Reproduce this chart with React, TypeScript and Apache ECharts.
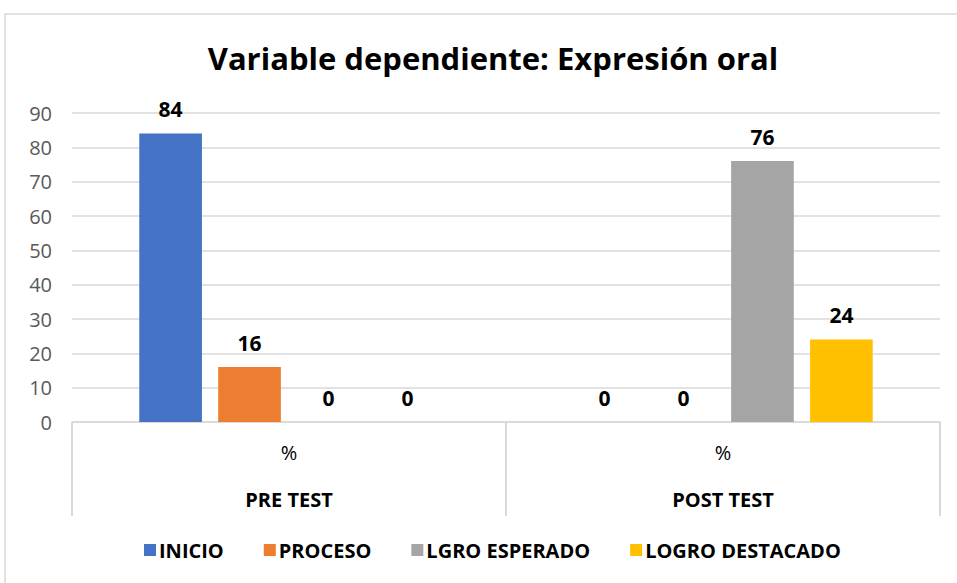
import React, { useEffect, useRef } from "react";
import * as echarts from "echarts";

const subCategories = ["%", "%"];
const groups = ["PRE TEST", "POST TEST"];
const seriesNames = ["INICIO", "PROCESO", "LGRO ESPERADO", "LOGRO DESTACADO"];
const inicio = [84, 0];
const proceso = [16, 0];
const esperado = [0, 76];
const destacado = [0, 24];
const colors = ["#4472C4", "#ED7D31", "#A5A5A5", "#FFC000"];
const yTicks = { min: 0, max: 90, interval: 10 };

const FONT = "'Open Sans', 'Noto Sans', sans-serif";

export default function App() {
  const ref = useRef<HTMLDivElement>(null);
  useEffect(() => {
    if (!ref.current) return;
    const chart = echarts.init(ref.current, undefined, { renderer: "svg" });
    const values = [inicio, proceso, esperado, destacado];
    chart.setOption({
      animation: false,
      textStyle: { fontFamily: FONT },
      title: {
        text: "Variable dependiente: Expresión oral",
        left: 488,
        top: 37,
        textAlign: "center",
        textStyle: { fontFamily: FONT, fontSize: 31, fontWeight: "bold", color: "#000" },
      },
      graphic: [
        {
          type: "rect",
          shape: { x: 5, y: 14, width: 1000, height: 620 },
          style: { fill: "none", stroke: "#d9d9d9", lineWidth: 1.5 },
          silent: true,
        },
      ],
      legend: {
        left: 139,
        top: 535,
        itemWidth: 12,
        itemHeight: 12,
        itemGap: 40,
        icon: "rect",
        data: seriesNames,
        textStyle: { fontFamily: FONT, fontSize: 20, fontWeight: "bold", color: "#000", padding: [0, 0, 0, -2] },
      },
      grid: { left: 72, right: 17, top: 113, bottom: 161, containLabel: false },
      xAxis: [
        {
          type: "category",
          data: subCategories,
          axisLine: { show: true, lineStyle: { color: "#d9d9d9", width: 1.5 } },
          axisTick: { show: true, interval: 0, length: 94, lineStyle: { color: "#d9d9d9", width: 2 } },
          axisLabel: { margin: 20, fontSize: 20, color: "#000", fontFamily: FONT },
        },
        {
          type: "category",
          data: groups,
          position: "bottom",
          axisLine: { show: false },
          axisTick: { show: false },
          axisLabel: { margin: 67, fontSize: 20, fontWeight: "bold", color: "#000", fontFamily: FONT },
        },
      ],
      yAxis: {
        type: "value",
        min: yTicks.min,
        max: yTicks.max,
        interval: yTicks.interval,
        axisLine: { show: false },
        axisTick: { show: false },
        axisLabel: { margin: 20, fontSize: 20, color: "#595959", fontFamily: FONT },
        splitLine: { lineStyle: { color: "#d9d9d9", width: 1.5 } },
      },
      series: seriesNames.map((name, i) => ({
        name,
        type: "bar",
        xAxisIndex: 0,
        data: values[i],
        barCategoryGap: "31%",
        barGap: "26%",
        itemStyle: { color: colors[i] },
        label: {
          show: true,
          position: "top",
          distance: 14,
          fontSize: 21,
          fontWeight: "bold",
          color: "#000",
          fontFamily: FONT,
        },
      })),
    });
    return () => chart.dispose();
  }, []);
  return (
    <div
      ref={ref}
      style={{ position: "fixed", left: 0, top: 0, width: 957, height: 583, background: "#fff" }}
    />
  );
}
